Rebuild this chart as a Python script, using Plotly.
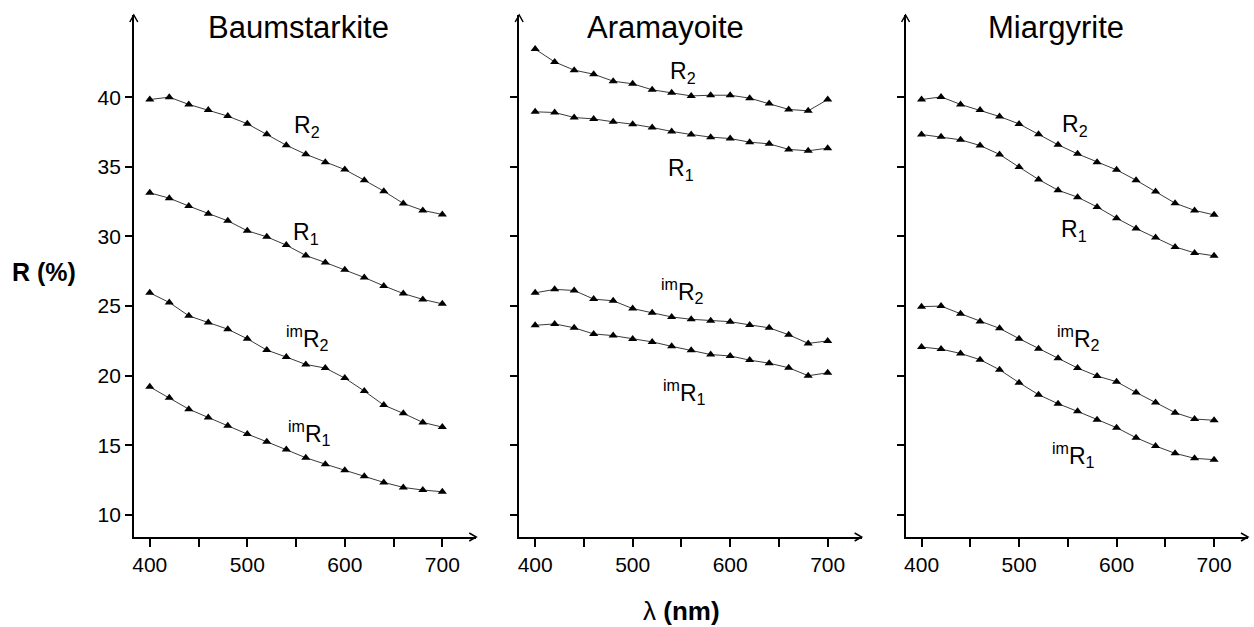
import plotly.graph_objects as go

W, H = 1254, 627

wavelength = [400, 420, 440, 460, 480, 500, 520, 540, 560, 580, 600, 620, 640, 660, 680, 700]

minerals = ["Baumstarkite", "Aramayoite", "Miargyrite"]

baum_R2 = [39.83, 40.0, 39.48, 39.07, 38.64, 38.09, 37.34, 36.55, 35.9, 35.33, 34.8, 34.04, 33.25, 32.37, 31.87, 31.58]
baum_R1 = [33.13, 32.75, 32.18, 31.63, 31.12, 30.41, 29.97, 29.38, 28.63, 28.13, 27.6, 27.05, 26.45, 25.9, 25.48, 25.16]
baum_imR2 = [25.95, 25.26, 24.30, 23.82, 23.34, 22.65, 21.84, 21.34, 20.81, 20.55, 19.83, 18.9, 17.89, 17.3, 16.65, 16.31]
baum_imR1 = [19.2, 18.41, 17.6, 17.0, 16.4, 15.81, 15.26, 14.71, 14.11, 13.65, 13.22, 12.79, 12.34, 11.98, 11.79, 11.67]

aram_R2 = [43.45, 42.53, 41.94, 41.65, 41.15, 40.96, 40.53, 40.31, 40.09, 40.14, 40.14, 39.93, 39.55, 39.12, 39.02, 39.83]
aram_R1 = [38.95, 38.9, 38.54, 38.44, 38.23, 38.06, 37.82, 37.54, 37.32, 37.13, 37.03, 36.77, 36.65, 36.25, 36.15, 36.34]
aram_imR2 = [25.95, 26.2, 26.12, 25.5, 25.38, 24.82, 24.52, 24.22, 24.05, 23.95, 23.88, 23.65, 23.44, 22.94, 22.32, 22.5]
aram_imR1 = [23.62, 23.72, 23.44, 23.0, 22.88, 22.64, 22.43, 22.11, 21.83, 21.52, 21.42, 21.12, 20.9, 20.57, 20.0, 20.21]

mia_R2 = [39.83, 40.02, 39.48, 39.07, 38.61, 38.08, 37.34, 36.58, 35.93, 35.33, 34.78, 34.04, 33.23, 32.39, 31.87, 31.55]
mia_R1 = [37.32, 37.15, 36.94, 36.53, 35.89, 34.98, 34.09, 33.32, 32.82, 32.12, 31.31, 30.57, 29.93, 29.25, 28.82, 28.61]
mia_imR2 = [24.96, 25.0, 24.45, 23.9, 23.4, 22.66, 21.94, 21.25, 20.55, 19.98, 19.57, 18.8, 18.07, 17.35, 16.89, 16.8]
mia_imR1 = [22.06, 21.91, 21.6, 21.15, 20.43, 19.5, 18.64, 17.99, 17.44, 16.84, 16.27, 15.55, 14.95, 14.43, 14.07, 13.97]

series_names = ["R<sub>2</sub>", "R<sub>1</sub>", "<sup>im</sup>R<sub>2</sub>", "<sup>im</sup>R<sub>1</sub>"]
panel_series = [
    [baum_R2, baum_R1, baum_imR2, baum_imR1],
    [aram_R2, aram_R1, aram_imR2, aram_imR1],
    [mia_R2, mia_R1, mia_imR2, mia_imR1],
]
# label positions (data coords) per panel, per series
label_x = [[561, 560, 562, 564], [552, 550, 551, 553], [557, 556, 561, 556]]
label_y = [[37.9, 30.2, 22.7, 15.9], [41.8, 34.8, 26.1, 18.85], [38.0, 30.45, 22.7, 14.3]]
title_px = [297, 665, 1056]

y_ticks = [10, 15, 20, 25, 30, 35, 40]
x_ticks = [400, 450, 500, 550, 600, 650, 700]
x_ticktext = ["400", "", "500", "", "600", "", "700"]

FONT = "Liberation Sans, Arial, Helvetica, sans-serif"

# pixel layout
axis_left_px = [132, 518, 905]
panel_w_px = 343
bottom_px = 537
top_px = 15
x_range = [383.6, 734.8]
y_range = [8.42, 45.9]

fig = go.Figure()
shapes = []
annotations = []

for i in range(3):
    xa = "x" if i == 0 else f"x{i+1}"
    ya = "y" if i == 0 else f"y{i+1}"
    for j, vals in enumerate(panel_series[i]):
        fig.add_trace(go.Scatter(
            x=wavelength, y=vals, xaxis=xa, yaxis=ya,
            mode="lines+markers",
            line=dict(color="#3a3a3a", width=1),
            marker=dict(symbol="triangle-up", size=8, color="black"),
            showlegend=False, name=minerals[i],
        ))
        annotations.append(dict(
            x=label_x[i][j], y=label_y[i][j], xref=xa, yref=ya,
            text=series_names[j], showarrow=False,
            font=dict(family=FONT, size=23, color="black"),
            xanchor="center", yanchor="middle",
        ))
    x0 = axis_left_px[i] / W
    x1 = (axis_left_px[i] + panel_w_px) / W
    xkey = "xaxis" if i == 0 else f"xaxis{i+1}"
    ykey = "yaxis" if i == 0 else f"yaxis{i+1}"
    fig.update_layout(**{
        xkey: dict(
            domain=[x0, x1], range=x_range, anchor=ya,
            showline=True, linecolor="black", linewidth=1.5,
            showgrid=False, zeroline=False,
            ticks="outside", ticklen=8, tickwidth=1.5, tickcolor="black",
            tickvals=x_ticks, ticktext=x_ticktext,
            tickfont=dict(family=FONT, size=21, color="black"),
        ),
        ykey: dict(
            domain=[1 - bottom_px / H, 1 - top_px / H], range=y_range, anchor=xa,
            showline=True, linecolor="black", linewidth=1.5,
            showgrid=False, zeroline=False,
            ticks="outside", ticklen=7, tickwidth=1.5, tickcolor="black",
            tickvals=y_ticks, showticklabels=(i == 0),
            tickfont=dict(family=FONT, size=21, color="black"),
        ),
    })
    # arrow chevrons at axis ends
    ax_px = axis_left_px[i]
    tip_y = top_px
    shapes.append(dict(
        type="path", xref="paper", yref="paper",
        path=f"M {(ax_px-4)/W},{1-(tip_y+7)/H} L {ax_px/W},{1-tip_y/H} L {(ax_px+4)/W},{1-(tip_y+7)/H}",
        line=dict(color="black", width=1.5),
    ))
    tip_x = ax_px + panel_w_px
    shapes.append(dict(
        type="path", xref="paper", yref="paper",
        path=f"M {(tip_x-7)/W},{1-(bottom_px-4)/H} L {tip_x/W},{1-bottom_px/H} L {(tip_x-7)/W},{1-(bottom_px+4)/H}",
        line=dict(color="black", width=1.5),
    ))
    annotations.append(dict(
        x=title_px[i] / W, y=1 - 27 / H, xref="paper", yref="paper",
        text=minerals[i], showarrow=False,
        font=dict(family=FONT, size=31, color="black"),
        xanchor="center", yanchor="middle",
    ))

annotations.append(dict(
    x=42 / W, y=1 - 272 / H, xref="paper", yref="paper",
    text="<b>R (%)</b>", showarrow=False,
    font=dict(family=FONT, size=25, color="black"),
    xanchor="center", yanchor="middle",
))
annotations.append(dict(
    x=681 / W, y=1 - 611 / H, xref="paper", yref="paper",
    text="λ <b>(nm)</b>", showarrow=False,
    font=dict(family=FONT, size=26, color="black"),
    xanchor="center", yanchor="middle",
))

fig.update_layout(
    width=W, height=H,
    margin=dict(l=0, r=0, t=0, b=0),
    paper_bgcolor="white", plot_bgcolor="white",
    shapes=shapes, annotations=annotations,
    showlegend=False,
)

fig.write_html(
    "out.html",
    config={"displayModeBar": False},
    post_script="document.body.style.margin='0';document.body.style.overflow='hidden';",
)
